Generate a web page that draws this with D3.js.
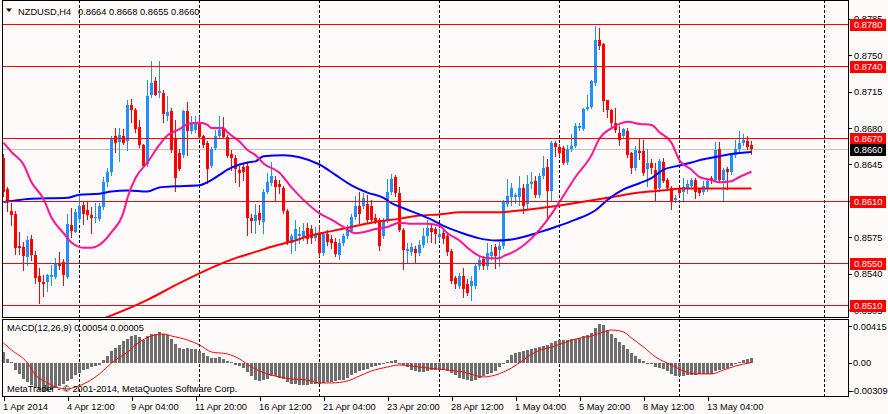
<!DOCTYPE html>
<html>
<head>
<meta charset="utf-8">
<script src="https://cdn.jsdelivr.net/npm/d3@7"></script>
<style>
  html, body { margin: 0; padding: 0; background: #fffafa; }
  svg { display: block; font-family: "Liberation Sans", Arial, sans-serif; }
</style>
</head>
<body>
<div id="chart"></div>
<script>
// NZDUSD H4 candles, bar 0 = first bar on the left (1 Apr 2014)
const opens = [
  0.8651,0.8621,0.8600,0.8597,0.8567,0.8566,0.8556,0.8573,0.8558,0.8538,0.8532,0.8532,0.8537,0.8537,0.8550,0.8551,
  0.8537,0.8587,0.8580,0.8593,0.8606,0.8601,0.8596,0.8594,0.8593,0.8604,0.8628,0.8638,0.8672,0.8667,0.8672,0.8668,
  0.8702,0.8697,0.8681,0.8664,0.8645,0.8712,0.8725,0.8714,0.8714,0.8692,0.8696,0.8670,0.8656,0.8654,0.8696,0.8677,
  0.8678,0.8684,0.8672,0.8666,0.8644,0.8661,0.8672,0.8680,0.8671,0.8655,0.8651,0.8640,0.8643,0.8644,0.8594,0.8591,
  0.8598,0.8590,0.8619,0.8627,0.8630,0.8626,0.8622,0.8600,0.8570,0.8573,0.8576,0.8575,0.8584,0.8583,0.8574,0.8578,
  0.8560,0.8578,0.8573,0.8571,0.8558,0.8570,0.8576,0.8581,0.8595,0.8605,0.8605,0.8607,0.8605,0.8594,0.8592,0.8576,
  0.8592,0.8619,0.8633,0.8618,0.8582,0.8562,0.8561,0.8564,0.8560,0.8568,0.8576,0.8584,0.8583,0.8575,0.8579,0.8576,
  0.8562,0.8536,0.8528,0.8538,0.8530,0.8528,0.8528,0.8547,0.8554,0.8547,0.8557,0.8566,0.8563,0.8567,0.8607,0.8614,
  0.8614,0.8614,0.8622,0.8607,0.8626,0.8629,0.8616,0.8634,0.8643,0.8620,0.8666,0.8662,0.8661,0.8647,0.8660,0.8663,
  0.8680,0.8679,0.8698,0.8700,0.8723,0.8765,0.8761,0.8707,0.8697,0.8685,0.8675,0.8672,0.8677,0.8656,0.8642,0.8658,
  0.8658,0.8641,0.8646,0.8640,0.8622,0.8647,0.8630,0.8622,0.8611,0.8621,0.8619,0.8622,0.8624,0.8630,0.8621,0.8619,
  0.8622,0.8632,0.8630,0.8660,0.8630,0.8641,0.8638,0.8654,0.8660,0.8666,0.8668,0.8664
];
const highs = [
  0.8655,0.8623,0.8608,0.8600,0.8580,0.8571,0.8576,0.8577,0.8562,0.8546,0.8539,0.8540,0.8548,0.8555,0.8561,0.8554,
  0.8597,0.8603,0.8602,0.8616,0.8609,0.8609,0.8604,0.8608,0.8608,0.8633,0.8642,0.8672,0.8680,0.8680,0.8679,0.8707,
  0.8708,0.8699,0.8688,0.8665,0.8726,0.8744,0.8729,0.8744,0.8717,0.8711,0.8699,0.8688,0.8660,0.8697,0.8705,0.8692,
  0.8692,0.8692,0.8673,0.8668,0.8662,0.8678,0.8692,0.8691,0.8673,0.8659,0.8654,0.8644,0.8646,0.8647,0.8597,0.8607,
  0.8606,0.8621,0.8637,0.8647,0.8634,0.8630,0.8624,0.8602,0.8578,0.8592,0.8585,0.8589,0.8589,0.8587,0.8585,0.8587,
  0.8580,0.8582,0.8577,0.8574,0.8573,0.8578,0.8587,0.8597,0.8615,0.8619,0.8618,0.8616,0.8611,0.8597,0.8594,0.8594,
  0.8631,0.8636,0.8635,0.8623,0.8584,0.8570,0.8570,0.8567,0.8572,0.8584,0.8592,0.8587,0.8585,0.8583,0.8583,0.8580,
  0.8564,0.8538,0.8541,0.8546,0.8535,0.8538,0.8549,0.8556,0.8557,0.8570,0.8568,0.8569,0.8571,0.8611,0.8631,0.8627,
  0.8618,0.8634,0.8626,0.8635,0.8638,0.8634,0.8637,0.8653,0.8650,0.8668,0.8668,0.8665,0.8663,0.8664,0.8674,0.8685,
  0.8685,0.8699,0.8712,0.8726,0.8778,0.8776,0.8762,0.8707,0.8698,0.8699,0.8682,0.8680,0.8680,0.8657,0.8663,0.8670,
  0.8669,0.8660,0.8650,0.8646,0.8650,0.8651,0.8632,0.8624,0.8616,0.8622,0.8632,0.8630,0.8632,0.8632,0.8622,0.8629,
  0.8632,0.8634,0.8667,0.8667,0.8642,0.8643,0.8656,0.8669,0.8677,0.8674,0.8672,0.8668
];
const lows = [
  0.8615,0.8600,0.8587,0.8559,0.8559,0.8544,0.8548,0.8553,0.8531,0.8512,0.8519,0.8523,0.8529,0.8536,0.8545,0.8529,
  0.8536,0.8575,0.8580,0.8590,0.8588,0.8593,0.8579,0.8590,0.8592,0.8602,0.8624,0.8635,0.8657,0.8648,0.8665,0.8659,
  0.8686,0.8676,0.8662,0.8643,0.8644,0.8710,0.8712,0.8710,0.8686,0.8688,0.8657,0.8620,0.8640,0.8652,0.8654,0.8675,
  0.8676,0.8670,0.8662,0.8627,0.8643,0.8660,0.8670,0.8670,0.8652,0.8640,0.8628,0.8624,0.8630,0.8577,0.8580,0.8579,
  0.8588,0.8579,0.8618,0.8625,0.8610,0.8618,0.8598,0.8569,0.8560,0.8563,0.8570,0.8572,0.8570,0.8570,0.8572,0.8557,
  0.8558,0.8568,0.8565,0.8557,0.8554,0.8568,0.8574,0.8580,0.8593,0.8589,0.8603,0.8590,0.8591,0.8589,0.8563,0.8574,
  0.8590,0.8617,0.8615,0.8581,0.8545,0.8551,0.8558,0.8551,0.8558,0.8566,0.8571,0.8571,0.8570,0.8572,0.8570,0.8558,
  0.8531,0.8526,0.8526,0.8518,0.8520,0.8515,0.8526,0.8545,0.8545,0.8545,0.8554,0.8546,0.8547,0.8565,0.8605,0.8606,
  0.8608,0.8606,0.8598,0.8602,0.8622,0.8614,0.8614,0.8632,0.8592,0.8610,0.8653,0.8653,0.8645,0.8645,0.8658,0.8662,
  0.8678,0.8678,0.8697,0.8699,0.8721,0.8756,0.8696,0.8691,0.8682,0.8676,0.8664,0.8670,0.8652,0.8637,0.8640,0.8650,
  0.8635,0.8624,0.8637,0.8611,0.8620,0.8628,0.8621,0.8602,0.8609,0.8616,0.8611,0.8618,0.8621,0.8613,0.8616,0.8617,
  0.8620,0.8627,0.8630,0.8629,0.8610,0.8621,0.8636,0.8652,0.8658,0.8664,0.8660,0.8655
];
const closes = [
  0.8619,0.8609,0.8596,0.8565,0.8565,0.8557,0.8572,0.8558,0.8536,0.8532,0.8530,0.8539,0.8539,0.8549,0.8547,0.8539,
  0.8588,0.8581,0.8599,0.8605,0.8597,0.8596,0.8594,0.8595,0.8605,0.8628,0.8638,0.8670,0.8666,0.8673,0.8666,0.8702,
  0.8697,0.8679,0.8664,0.8644,0.8711,0.8723,0.8712,0.8716,0.8694,0.8695,0.8659,0.8632,0.8641,0.8696,0.8677,0.8684,
  0.8686,0.8671,0.8664,0.8641,0.8660,0.8672,0.8678,0.8671,0.8653,0.8651,0.8641,0.8637,0.8638,0.8594,0.8591,0.8596,
  0.8592,0.8619,0.8628,0.8634,0.8623,0.8623,0.8600,0.8570,0.8576,0.8583,0.8578,0.8581,0.8573,0.8574,0.8578,0.8560,
  0.8578,0.8571,0.8570,0.8559,0.8570,0.8576,0.8583,0.8595,0.8605,0.8597,0.8613,0.8592,0.8592,0.8591,0.8567,0.8592,
  0.8619,0.8631,0.8618,0.8582,0.8563,0.8564,0.8566,0.8560,0.8568,0.8576,0.8584,0.8580,0.8578,0.8578,0.8573,0.8561,
  0.8533,0.8530,0.8538,0.8525,0.8522,0.8533,0.8547,0.8553,0.8547,0.8560,0.8561,0.8557,0.8567,0.8609,0.8615,0.8622,
  0.8616,0.8622,0.8605,0.8626,0.8628,0.8616,0.8634,0.8642,0.8620,0.8666,0.8662,0.8656,0.8646,0.8660,0.8663,0.8682,
  0.8682,0.8698,0.8700,0.8725,0.8765,0.8759,0.8706,0.8697,0.8685,0.8678,0.8669,0.8679,0.8654,0.8642,0.8659,0.8656,
  0.8637,0.8646,0.8642,0.8621,0.8648,0.8629,0.8622,0.8610,0.8613,0.8618,0.8623,0.8626,0.8630,0.8619,0.8618,0.8624,
  0.8629,0.8629,0.8659,0.8630,0.8640,0.8638,0.8654,0.8660,0.8666,0.8669,0.8662,0.8660
];

// moving averages: [bar, price]
const pinkMA = [[0,0.8666],[2,0.8657],[5,0.8645],[7,0.8628],[10,0.8612],[12,0.8594],[15,0.8579],[17,0.8570],
  [20,0.8565],[22,0.8565],[25,0.8571],[27,0.8580],[30,0.8599],[31,0.8613],[33,0.8632],[36,0.8647],[39,0.8664],
  [41,0.8673],[44,0.8679],[46,0.8684],[49,0.8685],[51,0.8683],[52,0.8680],[55,0.8680],[56,0.8676],[59,0.8667],
  [61,0.8659],[63,0.8654],[65,0.8646],[69,0.8637],[72,0.8623],[75,0.8611],[79,0.8598],[82,0.8592],[85,0.8585],
  [88,0.8579],[90,0.8580],[93,0.8583],[96,0.8585],[99,0.8589],[102,0.8588],[106,0.8588],[109,0.8586],[111,0.8579],
  [114,0.8572],[116,0.8565],[119,0.8557],[121,0.8555],[124,0.8555],[125,0.8557],[127,0.8560],[132,0.8574],
  [136,0.8592],[139,0.8609],[143,0.8633],[147,0.8654],[149,0.8670],[152,0.8680],[154,0.8684],[156,0.8686],
  [159,0.8684],[162,0.8683],[164,0.8676],[167,0.8666],[169,0.8649],[172,0.8640],[174,0.8633],[177,0.8630],
  [179,0.8628],[182,0.8629],[184,0.8633],[187,0.8638]];
const blueMA = [[0,0.8609],[2,0.8610],[7,0.8612],[16,0.8613],[19,0.8616],[24,0.8617],[27,0.8619],[31,0.8620],
  [36,0.8619],[39,0.8623],[43,0.8624],[49,0.8625],[51,0.8628],[54,0.8635],[56,0.8640],[59,0.8645],[61,0.8647],
  [63,0.8648],[65,0.8653],[70,0.8654],[74,0.8652],[79,0.8645],[83,0.8635],[87,0.8625],[91,0.8618],[95,0.8613],
  [97,0.8608],[100,0.8603],[104,0.8597],[107,0.8592],[110,0.8586],[114,0.8580],[119,0.8574],[123,0.8572],
  [127,0.8573],[134,0.8580],[138,0.8585],[143,0.8592],[148,0.8601],[151,0.8611],[155,0.8621],[159,0.8627],
  [162,0.8632],[165,0.8640],[169,0.8644],[172,0.8647],[175,0.8650],[179,0.8653],[182,0.8655],[187,0.8657]];
const redMA = [[23,0.8494],[27,0.8500],[36,0.8515],[44,0.8531],[54,0.8549],[58,0.8555],[63,0.8561],[67,0.8566],
  [72,0.8571],[77,0.8577],[82,0.8581],[87,0.8585],[92,0.8589],[99,0.8593],[104,0.8596],[109,0.8597],[114,0.8599],
  [124,0.8599],[127,0.8600],[134,0.8603],[143,0.8608],[151,0.8613],[159,0.8618],[167,0.8621],[169,0.8622],[187,0.8622]];

// MACD(12,26,9) histogram per bar and signal line points
const macdMain = [
  0.00123,0.00049,0.0001,-0.00082,-0.00127,-0.00176,-0.00213,-0.0025,-0.00277,-0.00299,-0.00325,-0.00314,-0.00299,-0.00284,-0.00262,-0.00232,
  -0.00206,-0.00176,-0.00138,-0.00112,-0.00082,-0.00064,-0.00045,-0.0003,-0.00019,0.0003,0.00075,0.00135,0.00168,0.00198,0.00247,0.00273,
  0.00299,0.0031,0.00292,0.00262,0.00299,0.00321,0.00329,0.00344,0.00329,0.00314,0.00273,0.00217,0.00168,0.00161,0.00168,0.00161,
  0.00153,0.00135,0.00112,0.00075,0.0006,0.0006,0.00067,0.00049,0.00022,0.00007,-0.00019,-0.00037,-0.00056,-0.00101,-0.0015,-0.00187,
  -0.00206,-0.00194,-0.00176,-0.0015,-0.0015,-0.00164,-0.00176,-0.00213,-0.00232,-0.00239,-0.00243,-0.00243,-0.00243,-0.00239,-0.00232,-0.00232,
  -0.00224,-0.00213,-0.00213,-0.00206,-0.00194,-0.00187,-0.00168,-0.00138,-0.00112,-0.0009,-0.00075,-0.00064,-0.00045,-0.0003,-0.00019,-0.00007,
  0.00007,0.00019,0.0003,0.0,-0.00026,-0.00045,-0.00075,-0.0009,-0.00101,-0.00101,-0.0009,-0.00082,-0.00082,-0.00082,-0.00082,-0.0009,
  -0.00112,-0.00138,-0.00164,-0.00179,-0.00194,-0.00202,-0.00187,-0.00164,-0.0015,-0.00127,-0.00112,-0.0009,-0.00045,0.0,0.0003,0.00086,
  0.00112,0.00123,0.00135,0.0015,0.00157,0.00172,0.00179,0.00194,0.00198,0.00224,0.00247,0.00262,0.00254,0.00254,0.00265,0.00273,
  0.00284,0.00299,0.00314,0.00336,0.00396,0.00441,0.00422,0.00374,0.00329,0.00284,0.00236,0.00198,0.00161,0.00112,0.00075,0.00049,
  0.00019,0.0,-0.00015,-0.00045,-0.00056,-0.00067,-0.0009,-0.0012,-0.00142,-0.0015,-0.00146,-0.00138,-0.00135,-0.00135,-0.00127,-0.00127,
  -0.0012,-0.0012,-0.0009,-0.00075,-0.00067,-0.00052,-0.0003,-0.00015,0.00011,0.0003,0.00045,0.00054
];
const macdSignal = [[0,0.00224],[2,0.00146],[6,0],[8,-0.00135],[11,-0.00224],[13,-0.00269],[16,-0.00292],[18,-0.00269],
  [21,-0.00213],[24,-0.00123],[27,0],[31,0.00123],[34,0.00236],[37,0.00303],[40,0.00325],[42,0.00303],[46,0.00258],
  [49,0.00202],[52,0.00123],[56,0.00101],[59,0.00045],[62,-0.00045],[66,-0.00123],[69,-0.00157],[72,-0.00179],
  [76,-0.00191],[79,-0.00224],[82,-0.00224],[86,-0.00202],[89,-0.00146],[92,-0.0009],[96,-0.00045],[99,-0.00022],
  [102,-0.00034],[106,-0.00056],[111,-0.00079],[115,-0.00101],[120,-0.00157],[123,-0.00135],[127,-0.00056],
  [130,0.00034],[133,0.00123],[137,0.00179],[140,0.00224],[143,0.00269],[147,0.00303],[150,0.00348],[152,0.0037],
  [155,0.00348],[157,0.0028],[160,0.00179],[163,0.00067],[167,-0.00022],[170,-0.0009],[173,-0.00123],[177,-0.00123],
  [180,-0.00079],[183,-0.00034],[187,0.00005]];

// horizontal levels, axis ticks, time labels
const redLevels = [0.8780, 0.8740, 0.8670, 0.8610, 0.8550, 0.8510];
const bidPrice = 0.8660;
const priceTicks = [0.8785, 0.8750, 0.8715, 0.8680, 0.8645, 0.8610, 0.8575, 0.8540, 0.8505];
const macdTicks = [0.00415, 0, -0.00309];
const macdTickLabels = ['0.00415', '0.00', '-0.00309'];
const timeTickBars = [0, 16, 32, 48, 64, 80, 96, 112, 128, 144, 160, 176];
const timeTickLabels = ['1 Apr 2014', '4 Apr 12:00', '9 Apr 04:00', '11 Apr 20:00', '16 Apr 12:00', '21 Apr 04:00',
  '23 Apr 20:00', '28 Apr 12:00', '1 May 04:00', '5 May 20:00', '8 May 12:00', '13 May 04:00'];
const gridBars = [18.9, 48.9, 78.9, 108.9, 138.9, 168.9, 205.1];

const W = 888, H = 414;
const FONT = 9.3;
const bull = '#1e90ff', bear = '#ff0000';

const svg = d3.select('#chart').append('svg')
  .attr('width', W)
  .attr('height', H);

svg.append('rect').attr('width', W).attr('height', H).attr('fill', '#fffafa');

// scales: 4px per bar, price and macd panels
const x = d3.scaleLinear().domain([0, 1]).range([3.5, 7.5]);
const y = d3.scaleLinear().domain([0.8510, 0.8780]).range([305, 24]);
const ym = d3.scaleLinear().domain([-0.00309, 0.00415]).range([390.5, 326]);
const crisp = v => Math.round(v) + 0.5;

const defs = svg.append('defs');
defs.append('clipPath').attr('id', 'clipMain')
  .append('rect').attr('x', 3).attr('y', 1).attr('width', 845).attr('height', 316);
defs.append('clipPath').attr('id', 'clipMacd')
  .append('rect').attr('x', 3).attr('y', 320).attr('width', 845).attr('height', 76);

const main = svg.append('g').attr('clip-path', 'url(#clipMain)');
const macd = svg.append('g').attr('clip-path', 'url(#clipMacd)');

// dashed vertical grid in both panels
[[main, 0, 317], [macd, 319, 396]].forEach(([g, y0, y1]) => {
  g.selectAll(null)
    .data(gridBars)
    .enter()
    .append('line')
    .attr('x1', d => crisp(x(d))).attr('x2', d => crisp(x(d)))
    .attr('y1', y0).attr('y2', y1)
    .attr('stroke', '#000')
    .attr('stroke-dasharray', '3,2');
});

// bid line
main.append('line')
  .attr('x1', 2).attr('x2', 848)
  .attr('y1', crisp(y(bidPrice))).attr('y2', crisp(y(bidPrice)))
  .attr('stroke', '#c0c0c0');

// candles
const bars = d3.range(opens.length);
const candle = main.selectAll('.candle')
  .data(bars)
  .enter()
  .append('g')
  .attr('class', 'candle')
  .attr('shape-rendering', 'crispEdges');

candle.append('line')
  .attr('x1', i => x(i)).attr('x2', i => x(i))
  .attr('y1', i => Math.round(y(highs[i])))
  .attr('y2', i => Math.round(y(lows[i])) + 1)
  .attr('stroke', i => closes[i] >= opens[i] ? bull : bear);

candle.append('rect')
  .attr('x', i => x(i) - 1.5)
  .attr('width', 3)
  .attr('y', i => Math.round(y(Math.max(opens[i], closes[i]))))
  .attr('height', i => Math.max(1, Math.round(y(Math.min(opens[i], closes[i]))) - Math.round(y(Math.max(opens[i], closes[i])))))
  .attr('fill', i => closes[i] >= opens[i] ? bull : bear);

// moving averages
const maLine = d3.line()
  .x(d => x(d[0]))
  .y(d => y(d[1]))
  .curve(d3.curveMonotoneX);

[[redMA, '#ff0000'], [blueMA, '#0000ff'], [pinkMA, '#ff1493']].forEach(([data, color]) => {
  main.append('path')
    .attr('d', maLine(data))
    .attr('fill', 'none')
    .attr('stroke', color)
    .attr('stroke-width', 2);
});

// horizontal red levels
main.selectAll('.level')
  .data(redLevels)
  .enter()
  .append('line')
  .attr('class', 'level')
  .attr('x1', 2).attr('x2', 848)
  .attr('y1', d => crisp(y(d))).attr('y2', d => crisp(y(d)))
  .attr('stroke', '#ff0000');

// MACD histogram and signal
macd.selectAll('.hist')
  .data(bars)
  .enter()
  .append('rect')
  .attr('class', 'hist')
  .attr('shape-rendering', 'crispEdges')
  .attr('x', i => x(i) - 1.5)
  .attr('width', 3)
  .attr('y', i => Math.round(Math.min(ym(macdMain[i]), ym(0))))
  .attr('height', i => Math.max(1, Math.round(Math.abs(ym(macdMain[i]) - ym(0)))))
  .attr('fill', '#6e6e6e');

macd.append('path')
  .attr('d', d3.line().x(d => x(d[0])).y(d => ym(d[1])).curve(d3.curveMonotoneX)(macdSignal))
  .attr('fill', 'none')
  .attr('stroke', '#ff0000')
  .attr('stroke-width', 1);

// panel frames
svg.append('rect').attr('x', 2.5).attr('y', 0.5).attr('width', 846).attr('height', 317)
  .attr('fill', 'none').attr('stroke', '#000');
svg.append('rect').attr('x', 2.5).attr('y', 319.5).attr('width', 846).attr('height', 77)
  .attr('fill', 'none').attr('stroke', '#000');

// right price axis
const axis = svg.append('g').attr('font-size', FONT);
priceTicks.forEach(p => {
  const yy = crisp(y(p));
  axis.append('line').attr('x1', 849).attr('x2', 852).attr('y1', yy).attr('y2', yy).attr('stroke', '#000');
  axis.append('text').attr('x', 854).attr('y', y(p) + 3.5).text(d3.format('.4f')(p));
});
macdTicks.forEach((v, k) => {
  const yy = crisp(ym(v));
  axis.append('line').attr('x1', 849).attr('x2', 852).attr('y1', yy).attr('y2', yy).attr('stroke', '#000');
  axis.append('text').attr('x', v < 0 ? 851 : 853).attr('y', ym(v) + 3.5).text(macdTickLabels[k]);
});

// level boxes on the price axis
redLevels.map(p => [p, '#ff0000']).concat([[bidPrice, '#000']]).forEach(([p, color]) => {
  axis.append('rect').attr('x', 850).attr('y', Math.round(y(p)) - 5).attr('width', 36).attr('height', 12)
    .attr('fill', color);
  axis.append('text').attr('x', 854).attr('y', y(p) + 4).attr('fill', '#fff')
    .text(d3.format('.4f')(p));
});

// time axis
timeTickBars.forEach((b, k) => {
  axis.append('line').attr('x1', crisp(x(b))).attr('x2', crisp(x(b)))
    .attr('y1', 397).attr('y2', 401).attr('stroke', '#000');
  axis.append('text').attr('x', x(b) - 0.5).attr('y', 410).text(timeTickLabels[k]);
});

// headers
const last = opens.length - 1;
svg.append('path').attr('d', 'M6,8.5 L12,8.5 L9,12 Z').attr('fill', '#000');
axis.append('text').attr('x', 18).attr('y', 14.5).text('NZDUSD,H4');
axis.append('text').attr('x', 78).attr('y', 14.5)
  .text([opens[last], highs[last], lows[last], closes[last]].map(d3.format('.4f')).join(' '));
axis.append('text').attr('x', 7).attr('y', 331)
  .text('MACD(12,26,9) ' + d3.format('.5f')(macdMain[last]) + ' ' + d3.format('.5f')(macdSignal[macdSignal.length - 1][1]));
axis.append('text').attr('x', 7).attr('y', 392)
  .text('MetaTrader - \u00a9 2001-2014, MetaQuotes Software Corp.');
</script>
</body>
</html>
